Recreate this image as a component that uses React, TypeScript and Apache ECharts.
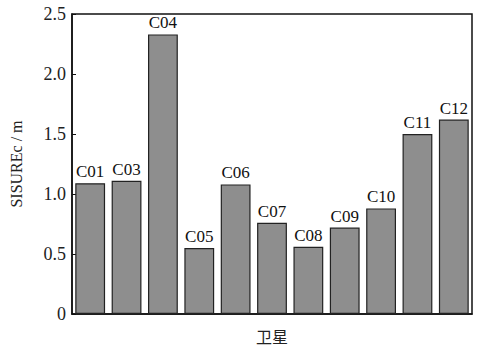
import React, { useEffect, useRef } from "react";
import * as echarts from "echarts";

const categories = ["C01", "C03", "C04", "C05", "C06", "C07", "C08", "C09", "C10", "C11", "C12"];
const values = [1.09, 1.11, 2.33, 0.55, 1.08, 0.76, 0.56, 0.72, 0.88, 1.5, 1.62];
const yTicks = [0, 0.5, 1.0, 1.5, 2.0, 2.5];

export default function App() {
  const ref = useRef<HTMLDivElement>(null);
  useEffect(() => {
    const chart = echarts.init(ref.current!, null, { renderer: "svg" });
    const font = "Liberation Serif";
    chart.setOption({
      animation: false,
      backgroundColor: "#ffffff",
      grid: { left: 69, right: 6, top: 14, bottom: 35, show: true, borderColor: "#111", borderWidth: 1.5, backgroundColor: "transparent" },
      xAxis: {
        type: "category",
        data: categories,
        axisTick: { show: false },
        axisLabel: { show: false },
        axisLine: { lineStyle: { color: "#111", width: 1.5 } },
        name: "卫星",
        nameLocation: "middle",
        nameGap: 14,
        nameTextStyle: { fontFamily: "Noto Sans CJK SC", fontSize: 16, color: "#222" },
      },
      yAxis: {
        type: "value",
        min: 0,
        max: 2.5,
        interval: 0.5,
        axisLine: { show: true, lineStyle: { color: "#111", width: 1.5 } },
        axisTick: { show: true, inside: true, length: 4, lineStyle: { color: "#111" } },
        splitLine: { show: false },
        axisLabel: {
          fontFamily: font,
          fontSize: 18,
          color: "#222",
          margin: 6,
          formatter: (v: number) => (yTicks.includes(v) ? (v === 0 ? "0" : v.toFixed(1)) : ""),
        },
        name: "SISUREc / m",
        nameLocation: "middle",
        nameGap: 48,
        nameRotate: 90,
        nameTextStyle: { fontFamily: font, fontSize: 16, color: "#222" },
      },
      series: [
        {
          type: "bar",
          data: values,
          barCategoryGap: "18%",
          itemStyle: { color: "#8e8e8e", borderColor: "#222", borderWidth: 1.2 },
          label: {
            show: true,
            position: "top",
            distance: 3,
            formatter: (p: any) => categories[p.dataIndex],
            fontFamily: font,
            fontSize: 17,
            color: "#111",
          },
        },
      ],
    });
    return () => chart.dispose();
  }, []);
  return <div ref={ref} style={{ width: 478, height: 349, position: "absolute", left: 0, top: 0 }} />;
}
